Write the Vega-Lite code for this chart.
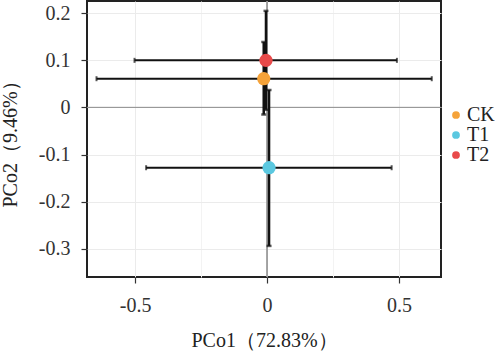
{
  "$schema": "https://vega.github.io/schema/vega-lite/v6.json",
  "width": 354,
  "height": 276,
  "autosize": {"type": "none"},
  "padding": {"left": 87, "top": 1, "right": 59, "bottom": 78},
  "background": "white",
  "config": {
    "font": "Liberation Serif",
    "view": {"stroke": "#222222", "strokeWidth": 2},
    "axis": {
      "labelFont": "Liberation Serif",
      "titleFont": "Liberation Serif",
      "labelFontSize": 20,
      "titleFontSize": 20,
      "titleFontWeight": "normal",
      "labelColor": "#333333",
      "titleColor": "#222222",
      "domain": false,
      "grid": true,
      "tickColor": "#333333",
      "tickSize": 6,
      "tickWidth": 1.2
    },
    "legend": {"labelFont": "Liberation Serif"}
  },
  "data": {
    "values": [
      {"group": "CK", "x": -0.0125, "y": 0.061, "xmin": -0.646, "xmax": 0.624, "ymin": -0.015, "ymax": 0.139},
      {"group": "T1", "x": 0.0076, "y": -0.128, "xmin": -0.458, "xmax": 0.472, "ymin": -0.294, "ymax": 0.037},
      {"group": "T2", "x": -0.004, "y": 0.1, "xmin": -0.502, "xmax": 0.492, "ymin": -0.005, "ymax": 0.205}
    ]
  },
  "layer": [
    {
      "mark": {"type": "rule", "color": "#999999", "strokeWidth": 1},
      "encoding": {
        "y": {
          "datum": 0,
          "type": "quantitative",
          "scale": {"domain": [-0.36, 0.226], "nice": false, "zero": false},
          "axis": {
            "title": "PCo2（9.46%）",
            "labelFont": "Liberation Serif",
            "titleFont": "Liberation Serif",
            "titlePadding": 18,
            "values": [-0.3, -0.25, -0.2, -0.15, -0.1, -0.05, 0, 0.05, 0.1, 0.15, 0.2],
            "labelExpr": "(abs(datum.value * 10 - round(datum.value * 10)) > 0.01) ? '' : ('' + datum.value)",
            "tickOpacity": {"condition": {"test": "abs(datum.value * 10 - round(datum.value * 10)) > 0.01", "value": 0}, "value": 1},
            "gridColor": {"condition": {"test": "abs(datum.value * 10 - round(datum.value * 10)) > 0.01", "value": "#F3F3F3"}, "value": "#EBEBEB"},
            "labelPadding": 11
          }
        }
      }
    },
    {
      "mark": {"type": "rule", "color": "#999999", "strokeWidth": 1},
      "encoding": {
        "x": {
          "datum": 0,
          "type": "quantitative",
          "scale": {"domain": [-0.682, 0.659], "nice": false, "zero": false},
          "axis": {
            "title": "PCo1（72.83%）",
            "labelFont": "Liberation Serif",
            "titleFont": "Liberation Serif",
            "titlePadding": 15,
            "values": [-0.5, -0.25, 0, 0.25, 0.5],
            "labelExpr": "(abs(datum.value * 2 - round(datum.value * 2)) > 0.01) ? '' : ('' + datum.value)",
            "tickOpacity": {"condition": {"test": "abs(datum.value * 2 - round(datum.value * 2)) > 0.01", "value": 0}, "value": 1},
            "gridColor": {"condition": {"test": "abs(datum.value * 2 - round(datum.value * 2)) > 0.01", "value": "#F3F3F3"}, "value": "#EBEBEB"},
            "labelPadding": 12
          }
        }
      }
    },
    {
      "mark": {"type": "errorbar", "ticks": true, "thickness": 2, "color": "#111111"},
      "encoding": {
        "x": {"field": "xmin", "type": "quantitative", "title": "PCo1（72.83%）"},
        "x2": {"field": "xmax"},
        "y": {"field": "y", "type": "quantitative", "title": "PCo2（9.46%）"}
      }
    },
    {
      "mark": {"type": "errorbar", "ticks": true, "thickness": 2.5, "color": "#111111"},
      "encoding": {
        "y": {"field": "ymin", "type": "quantitative", "title": "PCo2（9.46%）"},
        "y2": {"field": "ymax"},
        "x": {"field": "x", "type": "quantitative", "title": "PCo1（72.83%）"}
      }
    },
    {
      "mark": {"type": "point", "filled": true, "opacity": 1, "size": 175},
      "encoding": {
        "x": {"field": "x", "type": "quantitative", "title": "PCo1（72.83%）"},
        "y": {"field": "y", "type": "quantitative", "title": "PCo2（9.46%）"},
        "color": {
          "field": "group",
          "type": "nominal",
          "scale": {"domain": ["CK", "T1", "T2"], "range": ["#F5A33A", "#5BC8E0", "#E84A4A"]},
          "legend": {
            "title": null,
            "orient": "none",
            "legendX": 359,
            "legendY": 104,
            "symbolSize": 60,
            "symbolType": "circle",
            "labelFont": "Liberation Serif",
            "labelFontSize": 20,
            "labelColor": "#222222",
            "rowPadding": -1.5,
            "labelOffset": 1,
            "padding": 0
          }
        }
      }
    }
  ]
}
